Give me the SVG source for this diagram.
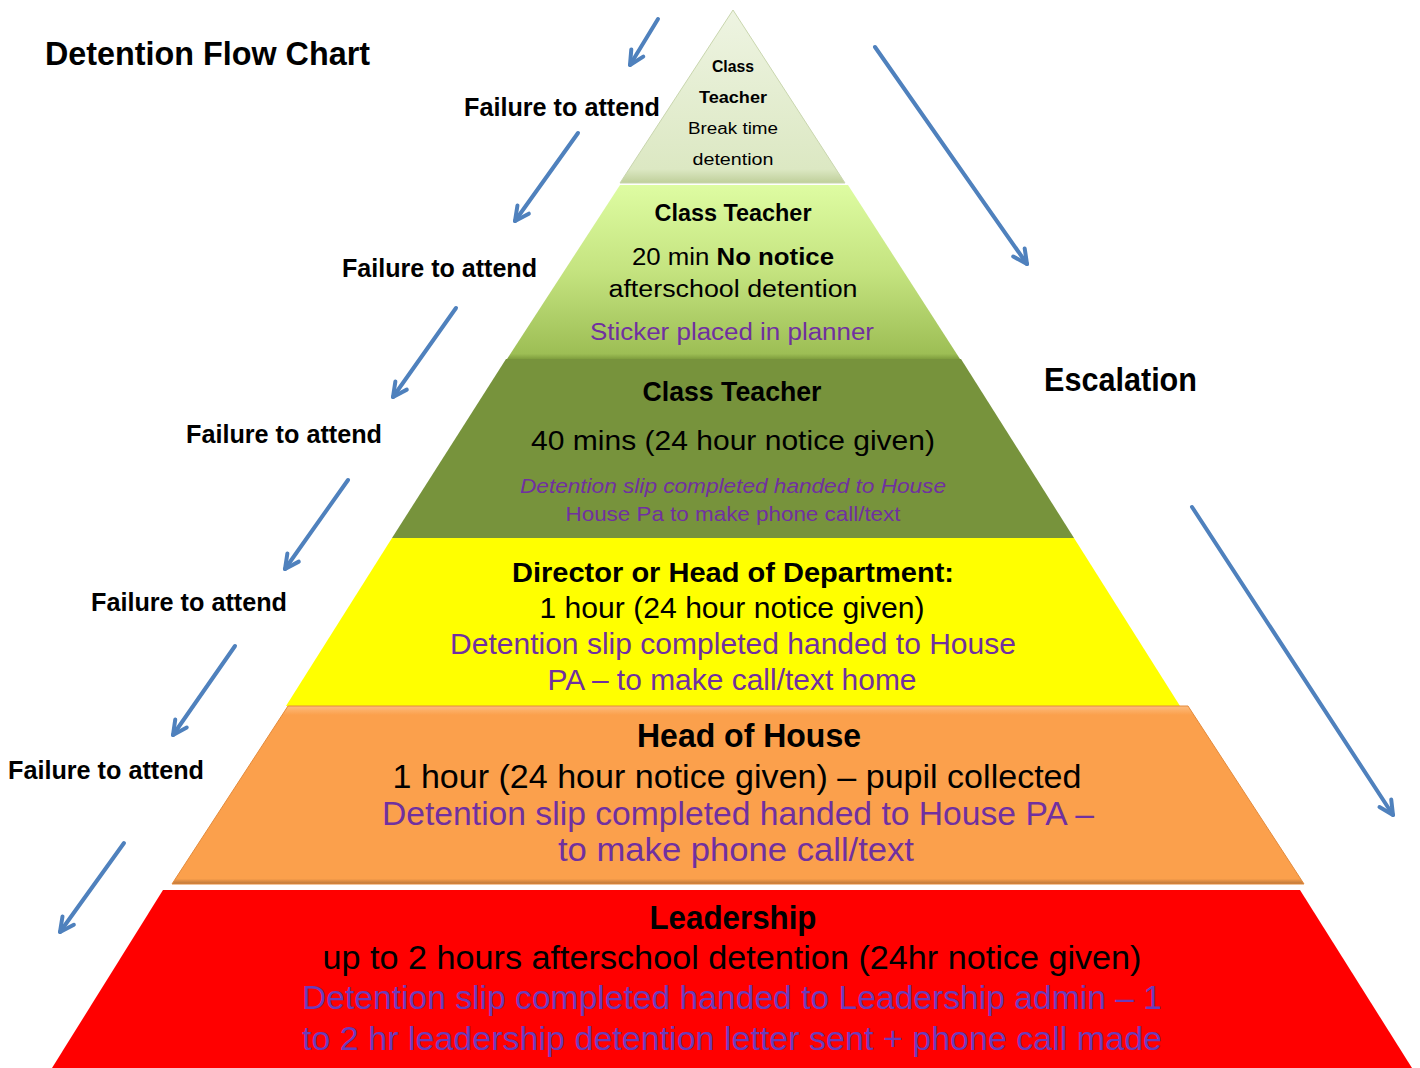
<svg xmlns="http://www.w3.org/2000/svg" width="1420" height="1068" viewBox="0 0 1420 1068">
<style>
text{font-family:"Liberation Sans",Arial,sans-serif;text-anchor:middle;fill:#000}
.b{font-weight:bold}
.p{fill:#7030A0}
.lbl{font-weight:bold;font-size:25px;text-anchor:start}
.arr{fill:none;stroke:#4F81BD;stroke-width:4;stroke-linecap:round;marker-end:url(#ah)}
</style>
<defs>
<marker id="ah" markerUnits="userSpaceOnUse" viewBox="0 0 20 20" markerWidth="20" markerHeight="20" refX="17" refY="10" orient="auto">
<path d="M3,3 L17,10 L3,17" fill="none" stroke="#4F81BD" stroke-width="4" stroke-linecap="round" stroke-linejoin="round"/>
</marker>
<linearGradient id="g1" x1="0" y1="0" x2="0" y2="1">
<stop offset="0" stop-color="#EEF4E2"/><stop offset="0.92" stop-color="#DCE8C3"/><stop offset="1" stop-color="#BFCF9A"/>
</linearGradient>
<linearGradient id="g2" x1="0" y1="0" x2="0" y2="1">
<stop offset="0" stop-color="#DEFCA2"/><stop offset="0.5" stop-color="#C4E37F"/><stop offset="0.97" stop-color="#9DBE55"/><stop offset="1" stop-color="#7F9E3E"/>
</linearGradient>
<linearGradient id="g5" x1="0" y1="0" x2="0" y2="1">
<stop offset="0" stop-color="#FDBC7E"/><stop offset="0.05" stop-color="#FBA04C"/><stop offset="0.97" stop-color="#FBA04C"/><stop offset="1" stop-color="#B9763A"/>
</linearGradient>
</defs>
<rect width="1420" height="1068" fill="#FFFFFF"/>
<text class="b" x="45" y="65" font-size="33" style="text-anchor:start" textLength="325" lengthAdjust="spacingAndGlyphs">Detention Flow Chart</text>
<text class="b" x="1044" y="391" font-size="34" style="text-anchor:start" textLength="153" lengthAdjust="spacingAndGlyphs">Escalation</text>
<g id="labels">
<text class="lbl" x="464" y="116" textLength="196" lengthAdjust="spacingAndGlyphs">Failure to attend</text>
<text class="lbl" x="342" y="277" textLength="195" lengthAdjust="spacingAndGlyphs">Failure to attend</text>
<text class="lbl" x="186" y="443" textLength="196" lengthAdjust="spacingAndGlyphs">Failure to attend</text>
<text class="lbl" x="91" y="611" textLength="196" lengthAdjust="spacingAndGlyphs">Failure to attend</text>
<text class="lbl" x="8" y="779" textLength="196" lengthAdjust="spacingAndGlyphs">Failure to attend</text>
</g>
<g id="level1">
<path d="M733,10 L845,183 L620,183 Z" fill="url(#g1)" stroke="#C9D6AE" stroke-width="1"/>
<text class="b" x="733" y="72" font-size="16" textLength="42" lengthAdjust="spacingAndGlyphs">Class</text>
<text class="b" x="733" y="103" font-size="16" textLength="68" lengthAdjust="spacingAndGlyphs">Teacher</text>
<text x="733" y="134" font-size="16" textLength="90" lengthAdjust="spacingAndGlyphs">Break time</text>
<text x="733" y="165" font-size="16" textLength="81" lengthAdjust="spacingAndGlyphs">detention</text>
</g>
<g id="level2">
<path d="M620,185 L848,185 L960,359 L507,359 Z" fill="url(#g2)"/>
<text class="b" x="733" y="221" font-size="23" textLength="157" lengthAdjust="spacingAndGlyphs">Class Teacher</text>
<text x="733" y="265" font-size="23" textLength="202" lengthAdjust="spacingAndGlyphs">20 min <tspan class="b">No notice</tspan></text>
<text x="733" y="297" font-size="23" textLength="249" lengthAdjust="spacingAndGlyphs">afterschool detention</text>
<text class="p" x="732" y="340" font-size="23" textLength="284" lengthAdjust="spacingAndGlyphs">Sticker placed in planner</text>
</g>
<g id="level3">
<path d="M506,359 L961,359 L1074,538 L392,538 Z" fill="#77933C"/>
<text class="b" x="732" y="401" font-size="27" textLength="179" lengthAdjust="spacingAndGlyphs">Class Teacher</text>
<text x="733" y="450" font-size="28" textLength="404" lengthAdjust="spacingAndGlyphs">40 mins (24 hour notice given)</text>
<text class="p" x="733" y="493" font-size="21" font-style="italic" textLength="426" lengthAdjust="spacingAndGlyphs">Detention slip completed handed to House</text>
<text class="p" x="733" y="521" font-size="21" textLength="335" lengthAdjust="spacingAndGlyphs">House Pa to make phone call/text</text>
</g>
<g id="level4">
<path d="M392,538 L1074,538 L1180,706 L286,706 Z" fill="#FFFF00"/>
<text class="b" x="733" y="582" font-size="27" textLength="442" lengthAdjust="spacingAndGlyphs">Director or Head of Department:</text>
<text x="732" y="618" font-size="29" textLength="385" lengthAdjust="spacingAndGlyphs">1 hour (24 hour notice given)</text>
<text class="p" x="733" y="654" font-size="29" textLength="566" lengthAdjust="spacingAndGlyphs">Detention slip completed handed to House</text>
<text class="p" x="732" y="690" font-size="29" textLength="369" lengthAdjust="spacingAndGlyphs">PA – to make call/text home</text>
</g>
<g id="level5">
<path d="M288,706 L1188,706 L1304,884 L172,884 Z" fill="url(#g5)" stroke="#E48A3A" stroke-width="1"/>
<text class="b" x="749" y="747" font-size="33" textLength="224" lengthAdjust="spacingAndGlyphs">Head of House</text>
<text x="737" y="788" font-size="34" textLength="689" lengthAdjust="spacingAndGlyphs">1 hour (24 hour notice given) – pupil collected</text>
<text class="p" x="738" y="825" font-size="34" textLength="712" lengthAdjust="spacingAndGlyphs">Detention slip completed handed to House PA –</text>
<text class="p" x="736" y="861" font-size="34" textLength="356" lengthAdjust="spacingAndGlyphs">to make phone call/text</text>
</g>
<g id="level6">
<path d="M163,890 L1300,890 L1412,1068 L52,1068 Z" fill="#FF0000"/>
<text class="b" x="733" y="929" font-size="33" textLength="167" lengthAdjust="spacingAndGlyphs">Leadership</text>
<text x="732" y="969" font-size="34" textLength="819" lengthAdjust="spacingAndGlyphs">up to 2 hours afterschool detention (24hr notice given)</text>
<text x="732" y="1009" font-size="34" style="fill:#6B3CBA" textLength="860" lengthAdjust="spacingAndGlyphs">Detention slip completed handed to Leadership admin – 1</text>
<text x="732" y="1050" font-size="34" style="fill:#6B3CBA" textLength="860" lengthAdjust="spacingAndGlyphs">to 2 hr leadership detention letter sent + phone call made</text>
</g>
<g id="connectors">
<path class="arr" d="M658,19 L630,65"/>
<path class="arr" d="M578,133 L515,221"/>
<path class="arr" d="M456,308 L393,397"/>
<path class="arr" d="M348,480 L285,569"/>
<path class="arr" d="M235,646 L173,735"/>
<path class="arr" d="M124,843 L60,932"/>
<path class="arr" d="M875,47 L1027,264"/>
<path class="arr" d="M1192,507 L1393,815"/>
</g>
</svg>
